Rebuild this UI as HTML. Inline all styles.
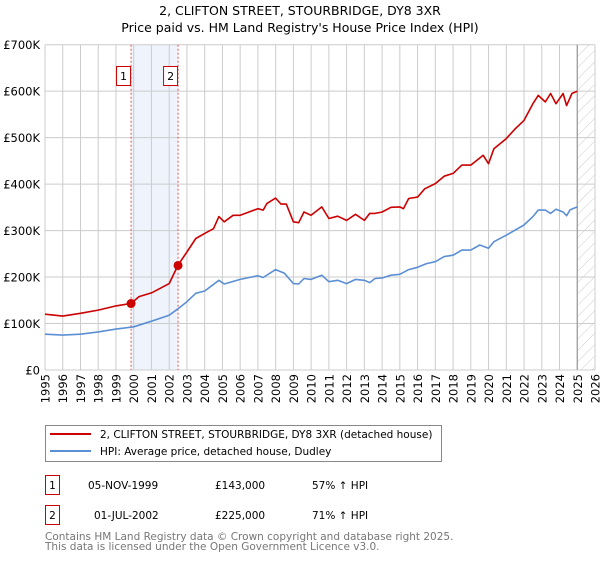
<!DOCTYPE html>
<html><head><meta charset="utf-8">
<style>
body{margin:0;background:#fff;font-family:"DejaVu Sans","Liberation Sans",sans-serif;}
svg text{font-family:"DejaVu Sans","Liberation Sans",sans-serif;}
</style></head>
<body>
<svg id="chart" width="600" height="560" xmlns="http://www.w3.org/2000/svg">
<defs>
<pattern id="hatch" width="8" height="8" patternUnits="userSpaceOnUse" patternTransform="rotate(45)">
<line x1="0" y1="0" x2="0" y2="8" stroke="#ccc" stroke-width="1"/>
</pattern>
</defs>
<text x="300" y="15" text-anchor="middle" font-size="12.5">2, CLIFTON STREET, STOURBRIDGE, DY8 3XR</text>
<text x="300" y="32" text-anchor="middle" font-size="12.5">Price paid vs. HM Land Registry's House Price Index (HPI)</text>
<g id="plot"></g>
<g>
<rect x="45.5" y="425.5" width="396" height="36" fill="#fff" stroke="#888"/>
<line x1="50" y1="434" x2="91" y2="434" stroke="#cc0000" stroke-width="2"/>
<text x="100" y="438" font-size="10.5">2, CLIFTON STREET, STOURBRIDGE, DY8 3XR (detached house)</text>
<line x1="50" y1="451" x2="91" y2="451" stroke="#5b8fd4" stroke-width="2"/>
<text x="100" y="455" font-size="10.5">HPI: Average price, detached house, Dudley</text>
</g>
<g font-size="10.5">
<rect x="45.5" y="475.5" width="14" height="19" fill="#fff" stroke="#cc0000"/>
<text x="52.5" y="489" text-anchor="middle">1</text>
<text x="88" y="489">05-NOV-1999</text>
<text x="215" y="489">£143,000</text>
<text x="312" y="489">57% ↑ HPI</text>
<rect x="45.5" y="505.5" width="14" height="19" fill="#fff" stroke="#cc0000"/>
<text x="52.5" y="519" text-anchor="middle">2</text>
<text x="94" y="519">01-JUL-2002</text>
<text x="215" y="519">£225,000</text>
<text x="312" y="519">71% ↑ HPI</text>
</g>
<g font-size="10.5" fill="#777">
<text x="45" y="540">Contains HM Land Registry data © Crown copyright and database right 2025.</text>
<text x="45" y="550">This data is licensed under the Open Government Licence v3.0.</text>
</g>
</svg>
<script>
const yearTicks=[1995,1996,1997,1998,1999,2000,2001,2002,2003,2004,2005,2006,2007,2008,2009,2010,2011,2012,2013,2014,2015,2016,2017,2018,2019,2020,2021,2022,2023,2024,2025,2026];
const valueTicks=[0,100000,200000,300000,400000,500000,600000,700000];
const valueTickLabels=["£0","£100K","£200K","£300K","£400K","£500K","£600K","£700K"];
const hpiYears=[1995,1996,1997,1998,1999,2000,2001,2002,2002.5,2003,2003.5,2004,2004.8,2005.1,2006,2007,2007.3,2008,2008.5,2009,2009.3,2009.6,2010,2010.6,2011,2011.5,2012,2012.5,2013,2013.3,2013.6,2014,2014.5,2015,2015.5,2016,2016.5,2017,2017.5,2018,2018.5,2019,2019.5,2020,2020.3,2021,2021.5,2022,2022.5,2022.8,2023.2,2023.5,2023.8,2024.2,2024.4,2024.6,2025];
const hpiValues=[77,75,77,82,88,93,105,118,132,147,165,170,193,185,195,203,199,216,208,186,185,197,195,204,190,193,186,195,193,188,197,198,204,206,216,221,229,233,244,247,258,258,269,262,276,290,301,312,330,344,344,337,346,340,332,345,351];
const priceYears=[1995,1996,1997,1998,1999,1999.85,2000.3,2001,2002,2002.5,2003,2003.5,2004,2004.5,2004.8,2005.1,2005.6,2006,2006.5,2007,2007.3,2007.5,2008,2008.3,2008.6,2009,2009.3,2009.6,2010,2010.6,2011,2011.5,2012,2012.5,2013,2013.3,2013.6,2014,2014.5,2015,2015.2,2015.5,2016,2016.4,2017,2017.5,2018,2018.5,2019,2019.7,2020,2020.3,2021,2021.5,2022,2022.5,2022.8,2023.2,2023.5,2023.8,2024.2,2024.4,2024.7,2025];
const priceValues=[120,116,122,129,138,143,158,166,186,226,254,283,294,304,330,319,333,333,340,347,344,358,370,357,357,319,317,340,333,351,326,331,322,335,322,337,337,340,350,351,347,369,372,390,401,417,423,441,441,462,444,476,498,519,537,573,591,577,595,573,595,569,595,600];
const saleYears=[1999.85,2002.5];
const saleValues=[143000,225000];
const saleLabels=["1","2"];

const NS="http://www.w3.org/2000/svg";
const L=45,R=595,T=44.7,B=370;
const x=y=>L+(y-1995)/31*(R-L);
const yv=v=>B-v/700000*(B-T);
const plot=document.getElementById('plot');
function mk(tag,attrs,parent){const e=document.createElementNS(NS,tag);for(const k in attrs)e.setAttribute(k,attrs[k]);(parent||plot).appendChild(e);return e;}

let sh=mk('rect',{x:x(saleYears[0]),y:T,width:x(saleYears[1])-x(saleYears[0]),height:B-T,fill:'#eef3fc'});


let ht=mk('rect',{x:x(2025),y:T,width:R-x(2025),height:B-T,fill:'url(#hatch)'});


yearTicks.forEach(yr=>{
  let g=mk('line',{x1:x(yr),x2:x(yr),y1:T,y2:B,stroke:'#ccc','stroke-width':1});
  
  
  let t=mk('text',{x:0,y:0,'font-size':11.5,transform:`translate(${x(yr)+4.5},${B+4}) rotate(-90)`,'text-anchor':'end'});
  t.textContent=yr;
  
  
});
valueTicks.forEach((v,i)=>{
  let g=mk('line',{x1:L,x2:R,y1:yv(v),y2:yv(v),stroke:'#ccc','stroke-width':1});
  
  
  let t=mk('text',{x:L-5,y:yv(v)+4.5,'font-size':11.5,'text-anchor':'end'});
  t.textContent=valueTickLabels[i];
  
  
});
let el=mk('line',{x1:x(2025),x2:x(2025),y1:T,y2:B,stroke:'#999','stroke-width':1.2});


saleYears.forEach((s,i)=>{
  let l=mk('line',{x1:x(s),x2:x(s),y1:T,y2:B,stroke:'#e05555','stroke-width':1,'stroke-dasharray':'2,2'});
  
  
  let bx=mk('rect',{x:x(s)-14.5,y:66.5,width:14,height:19,fill:'#fff',stroke:'#cc0000'});
  
  
  let t=mk('text',{x:x(s)-7.5,y:80,'font-size':11,'text-anchor':'middle'});
  t.textContent=saleLabels[i];
  
  
});
function line(xs,vs,color,name){
  const d=xs.map((a,i)=>(i?'L':'M')+x(a).toFixed(1)+','+yv(vs[i]*1000).toFixed(1)).join('');
  let p=mk('path',{d:d,fill:'none',stroke:color,'stroke-width':1.6,'stroke-linejoin':'round'});
  
  
}
line(hpiYears,hpiValues,'#5b8fd4','hpi-line');
line(priceYears,priceValues,'#cc0000','price-line');
saleYears.forEach((s,i)=>{
  let c=mk('circle',{cx:x(s),cy:yv(saleValues[i]),r:4.5,fill:'#cc0000'});
  
  
});
</script>
</body></html>
